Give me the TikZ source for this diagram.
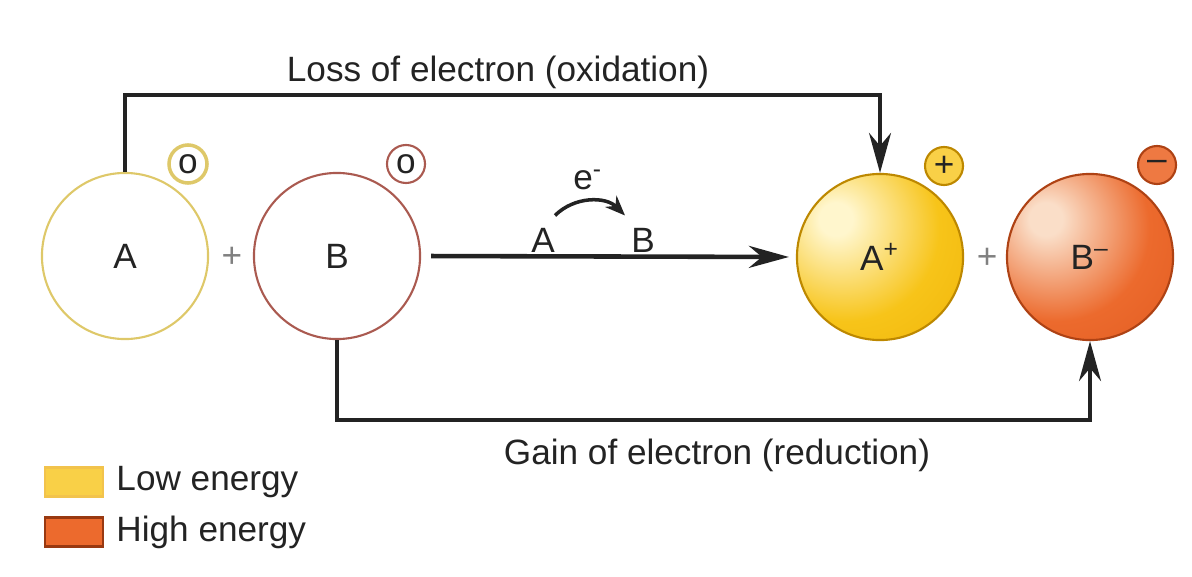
\documentclass[tikz,border=0pt]{standalone}
\usepackage{fontspec}
\setmainfont{Liberation Sans}
\usetikzlibrary{arrows.meta, positioning}
\definecolor{ink}{RGB}{35,35,35}
\definecolor{aline}{RGB}{222,200,105}
\definecolor{bline}{RGB}{170,90,80}
\definecolor{lowlight}{RGB}{255,246,205}
\definecolor{lowfill}{RGB}{247,196,25}
\definecolor{lowedge}{RGB}{236,170,0}
\definecolor{highlight}{RGB}{250,222,200}
\definecolor{highfill}{RGB}{236,106,45}
\definecolor{highedge}{RGB}{218,82,25}
\pgfdeclareradialshading{lowball}{\pgfpoint{-14bp}{12bp}}{color(0bp)=(lowlight); color(5bp)=(lowlight); color(28bp)=(lowfill); color(62bp)=(lowedge); color(100bp)=(lowedge)}
\pgfdeclareradialshading{highball}{\pgfpoint{-14bp}{12bp}}{color(0bp)=(highlight); color(5bp)=(highlight); color(28bp)=(highfill); color(62bp)=(highedge); color(100bp)=(highedge)}

\begin{document}
\begin{tikzpicture}[x=0.01cm,y=-0.01cm,font=\fontsize{10}{12}\selectfont,text=ink,
		atom/.style={circle,minimum size=1.66cm,inner sep=0pt,line width=0.6pt},
		charge/.style={circle,minimum size=0.38cm,inner sep=0pt,line width=0.6pt},
		flow/.style={ink,line width=1pt,-{Stealth[length=4mm,width=2.2mm]}},
		legbox/.style={rectangle,minimum width=0.58cm,minimum height=0.29cm,inner sep=0pt,line width=0.6pt}]
	\useasboundingbox (0,0) rectangle (1192,576);
	% reactants
	\node[atom,draw=aline] (A) at (125,256) {A};
	\node[charge,draw=aline,line width=1pt] (oA) at (188,164) {o};
	\node[text=gray] (plusL) at (232,257) {+};
	\node[atom,draw=bline] (B) at (337,256) {B};
	\node[charge,draw=bline] (oB) at (406,164) {o};
	% products
	\node[atom,draw=lowedge!80!black,shading=lowball] (As) at (880,257) {A\textsuperscript{+}};
	\node[charge,fill=lowfill!80!white,draw=lowedge!80!black] (pA) at (944,166) {+};
	\node[text=gray] (plusR) at (987,258) {+};
	\node[atom,draw=highedge!80!black,shading=highball] (Bs) at (1090,257) {B\textsuperscript{--}};
	\node[charge,fill=highfill!90!white,draw=highedge!80!black] (mB) at (1157,165) {--};
	% oxidation and reduction paths
	\coordinate (top) at (498,95);
	\coordinate (bot) at (717,420);
	\draw[flow] (A.north) |- (top) -| (As.north);
	\draw[flow] (B.south) |- (bot) -| (Bs.south);
	\node (loss) at (498,72) {Loss of electron (oxidation)};
	\node (gain) at (717,455) {Gain of electron (reduction)};
	% electron transfer
	\draw[flow,line width=1.3pt,shorten <=0.1cm,shorten >=0.07cm] (B.east) -- (As.west);
	\node (eA) at (543,240) {A};
	\node (eB) at (643,240) {B};
	\node (e) at (588,180) {e\textsuperscript{-}};
	\draw[ink,line width=1pt,-{Stealth[length=2mm,width=1.6mm]}] ([xshift=0.12cm]eA.north) to[bend left=45] ([xshift=-0.18cm]eB.north);
	% legend
	\node[legbox,fill=lowfill!80!white,draw=lowedge!70!white] (lowbox) at (74,482) {};
	\node[right=0pt of lowbox] (low) {Low energy};
	\node[legbox,fill=highfill,draw=highedge!70!black] (highbox) at (74,532) {};
	\node[right=0pt of highbox] (high) {High energy};
\end{tikzpicture}
\end{document}
